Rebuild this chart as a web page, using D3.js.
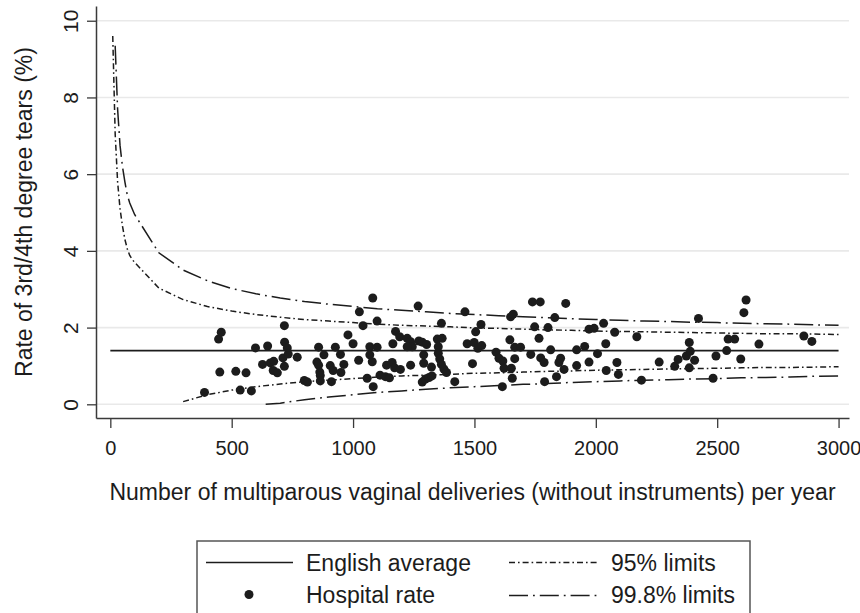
<!DOCTYPE html>
<html>
<head>
<meta charset="utf-8">
<script src="https://cdn.jsdelivr.net/npm/d3@7/dist/d3.min.js"></script>
<style>
  html, body { margin: 0; padding: 0; background: #fff; }
  svg { display: block; font-family: "Liberation Sans", Arial, Helvetica, sans-serif; }
</style>
</head>
<body>
<svg id="chart" width="860" height="613"></svg>
<script>
// Hospitals: annual multiparous spontaneous vaginal deliveries and tear rate (%)
const hospitalDeliveries = [
  388, 446, 451, 457, 517, 535, 559, 581, 598, 627, 648, 659, 673, 671, 688,
  711, 717, 718, 729, 733, 717, 770, 799, 812, 851, 858, 858, 863, 865, 865,
  880, 906, 911, 918, 927, 948, 950, 962, 979, 1000, 1023, 1026, 1041, 1058,
  1069, 1069, 1079, 1081, 1083, 1099, 1099, 1111, 1133, 1138, 1150, 1161,
  1164, 1171, 1175, 1195, 1192, 1223, 1237, 1244, 1223, 1237, 1268, 1271,
  1285, 1303, 1291, 1291, 1285, 1298, 1313, 1325, 1323, 1347, 1367, 1351,
  1364, 1351, 1357, 1364, 1374, 1385, 1419, 1461, 1470, 1492, 1499, 1505,
  1514, 1527, 1530, 1589, 1601, 1615, 1617, 1622, 1652, 1646, 1649, 1660,
  1656, 1666, 1690, 1666, 1732, 1739, 1748, 1766, 1771, 1773, 1787, 1789,
  1803, 1814, 1831, 1838, 1848, 1855, 1869, 1876, 1921, 1921, 1954, 1972,
  1972, 1993, 2007, 2032, 2041, 2043, 2078, 2087, 2093, 2169, 2188, 2261,
  2325, 2339, 2373, 2385, 2385, 2389, 2407, 2423, 2483, 2495, 2539, 2545,
  2572, 2597, 2610, 2619, 2672, 2857, 2890
];
const hospitalRates = [
  0.31, 1.70, 0.84, 1.88, 0.86, 0.37, 0.82, 0.35, 1.47, 1.04, 1.52, 1.08, 1.12, 0.88, 0.82,
  1.21, 2.05, 1.62, 1.47, 1.31, 0.99, 1.23, 0.62, 0.58, 1.10, 1.49, 1.02, 0.84, 0.75, 0.61,
  1.29, 1.01, 0.59, 0.88, 1.49, 1.30, 0.83, 1.04, 1.81, 1.58, 1.15, 2.41, 2.05, 0.68,
  1.50, 1.29, 1.11, 2.77, 0.46, 2.17, 1.49, 0.76, 0.72, 1.02, 0.69, 1.09,
  1.58, 0.95, 1.90, 0.91, 1.76, 1.72, 1.63, 1.50, 1.50, 1.02, 2.56, 1.65,
  1.62, 1.56, 1.29, 1.07, 0.58, 0.66, 0.70, 0.74, 0.97, 1.70, 1.72, 1.50,
  2.11, 1.33, 1.18, 1.04, 0.92, 0.83, 0.59, 2.41, 1.58, 1.06, 1.61, 1.89,
  1.46, 2.08, 1.53, 1.36, 1.20, 0.46, 1.13, 0.94, 0.94, 1.68, 2.28, 2.35,
  0.68, 1.49, 1.49, 1.19, 1.30, 2.67, 2.02, 1.72, 2.67, 1.21, 1.09, 0.59,
  2.00, 1.42, 2.26, 0.72, 1.09, 1.20, 0.91, 2.63, 1.42, 1.01, 1.51, 1.10,
  1.96, 1.98, 1.32, 2.11, 1.58, 0.88, 1.88, 1.09, 0.78, 1.76, 0.63, 1.10,
  0.99, 1.17, 1.26, 1.61, 0.95, 1.38, 1.15, 2.24, 0.68, 1.26, 1.40, 1.70,
  1.70, 1.18, 2.39, 2.72, 1.57, 1.78, 1.64
];

// National average rate (%)
const englishAverage = 1.4;
const averageRange = [0, 3000];

// Control limits (%) by number of deliveries
const upper95N = [10, 20, 30, 40, 50, 60, 70, 80, 90, 100, 200, 300, 400, 500, 600, 700, 800, 900, 1000,
  1100, 1200, 1300, 1400, 1500, 1600, 1700, 1800, 1900, 2000, 2100, 2200, 2300, 2400, 2500,
  2600, 2700, 2800, 2900, 3000];
const upper95 = [9.60, 7.05, 5.80, 5.10, 4.65, 4.30, 4.05, 3.88, 3.78, 3.70, 3.03, 2.73, 2.55, 2.43, 2.34, 2.27, 2.21, 2.17, 2.13,
  2.09, 2.06, 2.04, 2.02, 1.99, 1.98, 1.96, 1.94, 1.93, 1.91, 1.90, 1.89, 1.88, 1.87, 1.86,
  1.85, 1.84, 1.84, 1.83, 1.82];

const upper998N = [20, 30, 40, 50, 60, 70, 80, 90, 100, 200, 300, 400, 500, 600, 700, 800, 900, 1000,
  1100, 1200, 1300, 1400, 1500, 1600, 1700, 1800, 1900, 2000, 2100, 2200, 2300, 2400, 2500,
  2600, 2700, 2800, 2900, 3000];
const upper998 = [9.35, 7.70, 6.75, 6.20, 5.80, 5.45, 5.25, 5.10, 4.95, 3.95, 3.50, 3.22, 3.02, 2.88, 2.77, 2.68, 2.61, 2.55,
  2.49, 2.45, 2.41, 2.37, 2.34, 2.31, 2.28, 2.26, 2.23, 2.21, 2.19, 2.17, 2.16, 2.14, 2.13,
  2.11, 2.10, 2.09, 2.07, 2.06];

const lower95N = [300, 400, 500, 600, 700, 800, 900, 1000, 1100, 1200, 1300, 1400, 1500, 1600, 1700,
  1800, 1900, 2000, 2100, 2200, 2300, 2400, 2500, 2600, 2700, 2800, 2900, 3000];
const lower95 = [0.07, 0.25, 0.37, 0.46, 0.53, 0.59, 0.63, 0.67, 0.71, 0.74, 0.76, 0.78, 0.81, 0.82, 0.84,
  0.86, 0.87, 0.89, 0.90, 0.91, 0.92, 0.93, 0.94, 0.95, 0.96, 0.96, 0.97, 0.98];

const lower998N = [640, 700, 800, 900, 1000, 1100, 1200, 1300, 1400, 1500, 1600, 1700, 1800, 1900, 2000,
  2100, 2200, 2300, 2400, 2500, 2600, 2700, 2800, 2900, 3000];
const lower998 = [0.00, 0.03, 0.12, 0.19, 0.25, 0.31, 0.35, 0.39, 0.43, 0.46, 0.49, 0.52, 0.54, 0.57, 0.59,
  0.61, 0.63, 0.64, 0.66, 0.67, 0.69, 0.70, 0.71, 0.73, 0.74];

// Axis ticks
const xTicks = [0, 500, 1000, 1500, 2000, 2500, 3000];
const yTicks = [0, 2, 4, 6, 8, 10];

const xTitle = "Number of multiparous vaginal deliveries (without instruments) per year";
const yTitle = "Rate of 3rd/4th degree tears (%)";
const legendLabels = ["English average", "Hospital rate", "95% limits", "99.8% limits"];

const ink = "#1c1c1c";
const axisInk = "#3a3a3a";
const dash95 = "6,3,1.6,3";
const dash998 = "19,5,1.8,5";

const svg = d3.select("#chart");

const x = d3.scaleLinear().domain([-59, 3043]).range([96, 849]);
const y = d3.scaleLinear().domain([-0.357, 10.384]).range([418, 6]);

// Horizontal grid
svg.append("g")
  .selectAll("line")
  .data(yTicks)
  .join("line")
  .attr("x1", x.range()[0])
  .attr("x2", x.range()[1])
  .attr("y1", d => y(d))
  .attr("y2", d => y(d))
  .attr("stroke", "#e9e9e9")
  .attr("stroke-width", 1.6);

// Axes
const yAxis = svg.append("g")
  .attr("transform", `translate(${x.range()[0]},0)`)
  .call(d3.axisLeft(y).tickValues(yTicks).tickSize(9).tickSizeOuter(0).tickFormat(d3.format("d")));
yAxis.select(".domain").attr("stroke", axisInk).attr("stroke-width", 1.5);
yAxis.selectAll(".tick line").attr("stroke", axisInk).attr("stroke-width", 1.3);
yAxis.selectAll(".tick text")
  .attr("transform", "rotate(-90)")
  .attr("x", 0)
  .attr("y", -18)
  .attr("dy", 0)
  .attr("text-anchor", "middle")
  .attr("fill", ink)
  .style("font-size", "21px")
  .style("font-family", "'Liberation Sans', Arial, sans-serif");

const xAxis = svg.append("g")
  .attr("transform", `translate(0,${y.range()[0]})`)
  .call(d3.axisBottom(x).tickValues(xTicks).tickSize(10).tickSizeOuter(0).tickFormat(d3.format("d")));
xAxis.select(".domain").attr("stroke", axisInk).attr("stroke-width", 1.5);
xAxis.selectAll(".tick line").attr("stroke", axisInk).attr("stroke-width", 1.3);
xAxis.selectAll(".tick text")
  .attr("y", 37)
  .attr("dy", 0)
  .attr("fill", ink)
  .style("font-size", "20px")
  .style("font-family", "'Liberation Sans', Arial, sans-serif");

// Axis titles
svg.append("text")
  .attr("transform", `translate(32,212) rotate(-90)`)
  .attr("text-anchor", "middle")
  .attr("fill", ink)
  .style("font-size", "23px")
  .text(yTitle);

svg.append("text")
  .attr("x", (x.range()[0] + x.range()[1]) / 2)
  .attr("y", 500)
  .attr("text-anchor", "middle")
  .attr("fill", ink)
  .style("font-size", "23px")
  .text(xTitle);

// Funnel limit lines
const limitLine = d3.line().x(d => x(d[0])).y(d => y(d[1]));
const limits = [
  { n: upper95N, v: upper95, dash: dash95 },
  { n: lower95N, v: lower95, dash: dash95 },
  { n: upper998N, v: upper998, dash: dash998 },
  { n: lower998N, v: lower998, dash: dash998 }
];
svg.append("g")
  .selectAll("path")
  .data(limits)
  .join("path")
  .attr("d", d => limitLine(d.n.map((n, i) => [n, d.v[i]])))
  .attr("fill", "none")
  .attr("stroke", ink)
  .attr("stroke-width", 1.5)
  .attr("stroke-dasharray", d => d.dash);

// National average
svg.append("line")
  .attr("x1", x(averageRange[0]))
  .attr("x2", x(averageRange[1]))
  .attr("y1", y(englishAverage))
  .attr("y2", y(englishAverage))
  .attr("stroke", ink)
  .attr("stroke-width", 1.7);

// Hospitals
svg.append("g")
  .selectAll("circle")
  .data(hospitalDeliveries.map((n, i) => [n, hospitalRates[i]]))
  .join("circle")
  .attr("cx", d => x(d[0]))
  .attr("cy", d => y(d[1]))
  .attr("r", 4.5)
  .attr("fill", ink);

// Legend
const legend = svg.append("g");
legend.append("rect")
  .attr("x", 197).attr("y", 541)
  .attr("width", 553).attr("height", 90)
  .attr("fill", "#fff")
  .attr("stroke", "#555")
  .attr("stroke-width", 1.5);

legend.append("line")
  .attr("x1", 206).attr("x2", 293).attr("y1", 562.5).attr("y2", 562.5)
  .attr("stroke", ink).attr("stroke-width", 1.7);
legend.append("circle")
  .attr("cx", 249).attr("cy", 594.5).attr("r", 4.5).attr("fill", ink);
legend.append("line")
  .attr("x1", 509).attr("x2", 598).attr("y1", 562.5).attr("y2", 562.5)
  .attr("stroke", ink).attr("stroke-width", 1.5).attr("stroke-dasharray", dash95);
legend.append("line")
  .attr("x1", 509).attr("x2", 598).attr("y1", 595.5).attr("y2", 595.5)
  .attr("stroke", ink).attr("stroke-width", 1.5).attr("stroke-dasharray", dash998);

const legendPos = [[306, 570.7], [306, 603.3], [611, 570.7], [611, 603.3]];
legend.selectAll("text.lab")
  .data(legendLabels)
  .join("text")
  .attr("class", "lab")
  .attr("x", (d, i) => legendPos[i][0])
  .attr("y", (d, i) => legendPos[i][1])
  .attr("fill", ink)
  .style("font-size", "23px")
  .text(d => d);
</script>
</body>
</html>
